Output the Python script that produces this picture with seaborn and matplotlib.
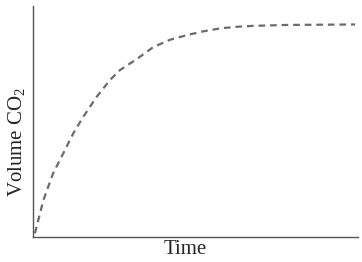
import matplotlib
matplotlib.use("Agg")
import matplotlib.pyplot as plt
import seaborn as sns
import pandas as pd

time = [0.6, 3.2, 6.2, 9.3, 12.4, 15.5, 19.6, 23.7, 26.8, 31.9, 37.0, 42.2,
        47.4, 52.3, 57.5, 62.6, 67.7, 78.2, 88.3, 99.1]
volume = [1.6, 16.0, 27.6, 36.2, 44.9, 52.1, 60.7, 68.0, 72.3, 77.0, 82.2, 85.4,
          87.4, 89.0, 90.3, 91.0, 91.4, 91.8, 91.9, 92.0]

sns.set_style("white")
plt.rcParams['font.family'] = ['Liberation Serif', 'DejaVu Serif']
plt.rcParams['mathtext.fontset'] = 'custom'
plt.rcParams['mathtext.rm'] = 'Liberation Serif'

df = pd.DataFrame({"Time": time, "Volume": volume})

fig = plt.figure(figsize=(3.62, 2.62), dpi=100)
ax = fig.add_axes([33/362, (262-237)/262, 325/362, 231/262])
sns.lineplot(data=df, x="Time", y="Volume", ax=ax, color="#6b6b6b",
             linestyle=(0, (3, 2.2)), linewidth=1.6)
ax.set_xlim(0, 100)
ax.set_ylim(0, 100)
ax.set_xticks([])
ax.set_yticks([])
for s in ["top", "right"]:
    ax.spines[s].set_visible(False)
for s in ["left", "bottom"]:
    ax.spines[s].set_color("#555555")
    ax.spines[s].set_linewidth(1.0)
ax.set_xlabel("Time", fontsize=15)
ax.set_ylabel("Volume CO$_\\mathrm{2}$", fontsize=15)
ax.xaxis.set_label_coords(0.468, -0.012, transform=ax.transAxes)
ax.xaxis.label.set_va("top")
ax.yaxis.set_label_coords(-0.049, 0.41, transform=ax.transAxes)
ax.yaxis.label.set_va("center")
fig.savefig("out.png", dpi=100)
